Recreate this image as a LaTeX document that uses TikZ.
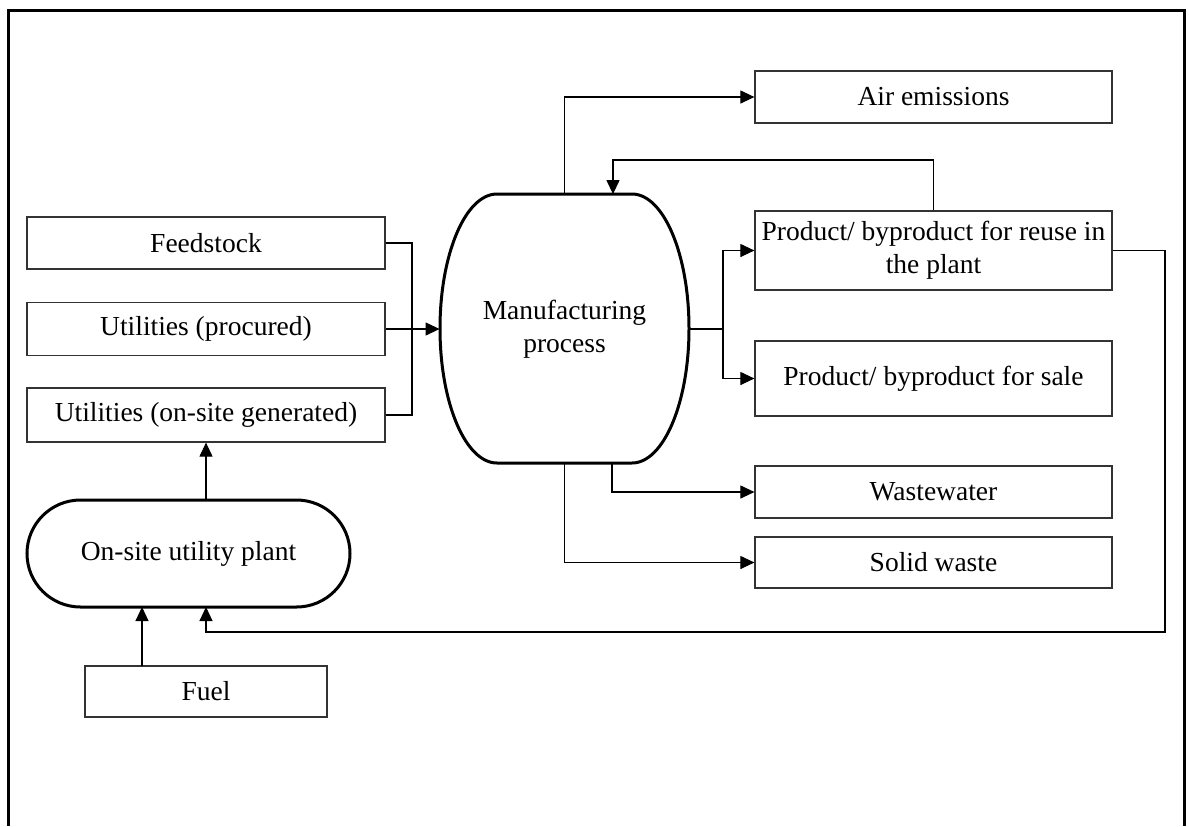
\documentclass[tikz,border=0pt]{standalone}
\usepackage{fontspec}
\setmainfont{Liberation Serif}
\usetikzlibrary{arrows.meta}
\begin{document}
\begin{tikzpicture}[x=0.5pt,y=-0.5pt,
  lbl/.style={font=\fontsize{13.75}{16.5}\selectfont, align=center},
  box/.style={lbl, draw=black!80, line width=0.6pt, rectangle, inner sep=0pt},
  conn/.style={line width=0.55pt, draw=black},
  arr/.style={conn, -{Triangle[length=7pt,width=6.5pt]}},
  thick shape/.style={line width=1.5pt, draw=black}
]
\useasboundingbox (0,0) rectangle (1189,826);
% frame
\draw[line width=1.5pt] (8,826) -- (8,10) -- (1184,10) -- (1184,826);

% left input boxes
\node[box, minimum width=179pt, minimum height=26pt] (feed) at (206,243) {Feedstock};
\node[box, minimum width=179pt, minimum height=26.5pt] (proc) at (206,329) {Utilities (procured)};
\node[box, minimum width=179pt, minimum height=27pt] (onsite) at (206,415) {Utilities (on-site generated)};

% manufacturing process
\node[lbl, minimum width=124.5pt, minimum height=134.5pt, inner sep=0pt] (mp) at (564.5,329) {Manufacturing\\process};
\draw[thick shape] (497,194) -- (632,194)
  arc[start angle=90, end angle=-90, x radius=28.5pt, y radius=67.25pt]
  -- (497,463)
  arc[start angle=270, end angle=90, x radius=28.5pt, y radius=67.25pt] -- cycle;

% utility plant
\node[lbl, draw, line width=1.5pt, rounded corners=26.75pt, minimum width=161.5pt, minimum height=53.5pt, inner sep=0pt] (plant) at (188.5,553.5) {On-site utility plant};
\node[box, minimum width=121pt, minimum height=25.5pt] (fuel) at (206,691.5) {Fuel};

% right output boxes
\node[box, minimum width=178.5pt, minimum height=26pt] (air) at (933.5,97) {Air emissions};
\node[box, minimum width=178.5pt, minimum height=39.5pt] (reuse) at (933.5,250.5) {Product/ byproduct for reuse in\\the plant};
\node[box, minimum width=178.5pt, minimum height=37.5pt] (sale) at (933.5,378.5) {Product/ byproduct for sale};
\node[box, minimum width=178.5pt, minimum height=26pt] (ww) at (933.5,492) {Wastewater};
\node[box, minimum width=178.5pt, minimum height=25.5pt] (sw) at (933.5,562.5) {Solid waste};

% coordinates
\coordinate (j) at (412,329);
\coordinate (br) at (723,329);
\coordinate (fb) at (613,160);
\coordinate (wwo) at (612,463);
\coordinate (loopR) at (1165,632);
\coordinate (ploop) at (206,607);
\coordinate (pup) at (206,500);
\coordinate (fuelup) at (142,666);
\coordinate (plantf) at (142,607);

% inputs
\draw[conn] (feed.east) -| (j);
\draw[conn] (onsite.east) -| (j);
\draw[arr] (proc.east) -- (proc.east -| mp.west);

% outputs
\draw[arr] (mp.north) |- (air.west);
\draw[arr] (reuse.north) |- (fb) -- (fb |- mp.north);
\draw[conn] (mp.east) -- (br);
\draw[arr] (br) |- (reuse.west);
\draw[arr] (br) |- (sale.west);
\draw[arr] (wwo) |- (ww.west);
\draw[arr] (mp.south) |- (sw.west);

% loop back to utility plant
\draw[arr] (reuse.east) -| (loopR) -| (ploop);

% utility plant connections
\draw[arr] (pup) -- (onsite.south);
\draw[arr] (fuelup) -- (plantf);
\end{tikzpicture}
\end{document}
